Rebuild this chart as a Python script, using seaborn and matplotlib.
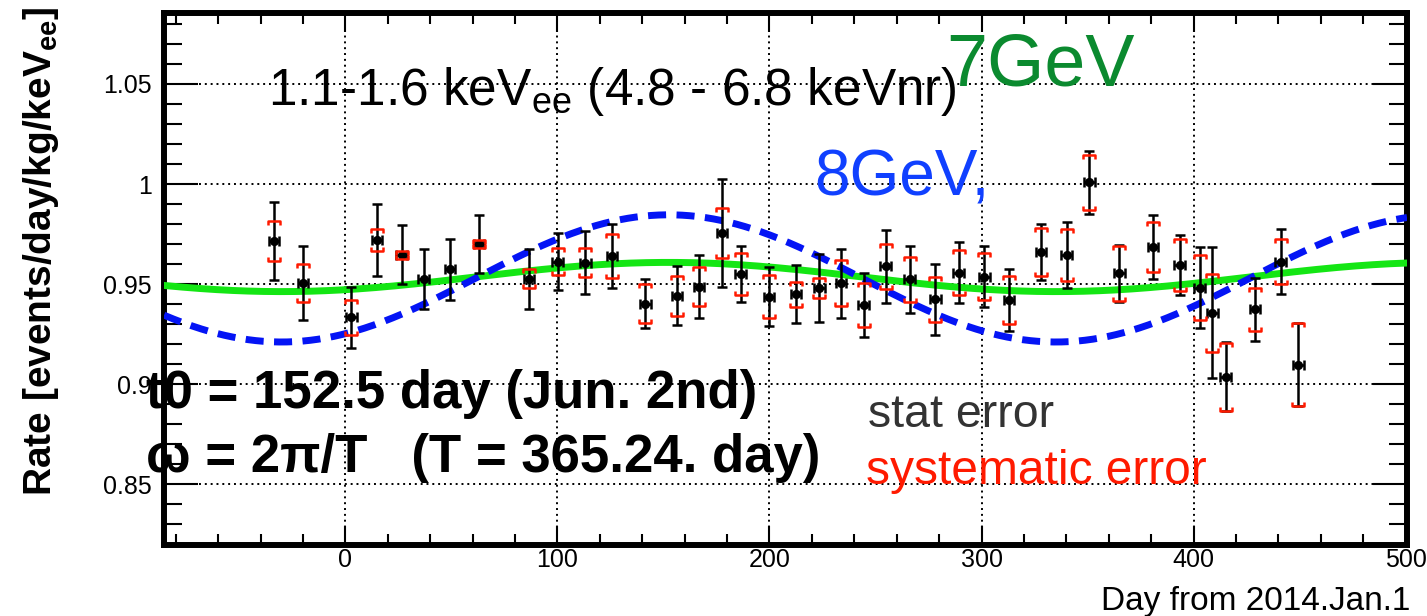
import numpy as np
import matplotlib
matplotlib.use("Agg")
import matplotlib.pyplot as plt
from matplotlib.path import Path
from matplotlib.markers import MarkerStyle
from matplotlib.ticker import MultipleLocator
import seaborn as sns

# Measured rate per time bin
days = [-33.7, -20.1, 2.7, 14.9, 26.5, 36.9, 49.3, 62.9, 86.6, 100.1,
        113.1, 125.7, 141.4, 156.4, 166.8, 177.6, 186.4, 199.8, 212.5, 223.5,
        233.7, 244.4, 254.8, 266.1, 278.2, 289.2, 301.3, 313.0, 328.1, 340.2,
        350.9, 365.0, 380.8, 393.5, 402.9, 408.9, 415.2, 429.0, 441.1, 449.4]
rate = [0.9715, 0.9505, 0.9333, 0.9720, 0.9647, 0.9525, 0.9573, 0.9700, 0.9527, 0.9612,
        0.9607, 0.9640, 0.9402, 0.9442, 0.9487, 0.9755, 0.9550, 0.9437, 0.9448, 0.9482,
        0.9503, 0.9395, 0.9588, 0.9523, 0.9423, 0.9557, 0.9537, 0.9420, 0.9660, 0.9645,
        1.0008, 0.9553, 0.9685, 0.9593, 0.9482, 0.9357, 0.9037, 0.9373, 0.9612, 0.9097]
stat_err = [0.0194, 0.0184, 0.0153, 0.0178, 0.0148, 0.0150, 0.0152, 0.0144, 0.0150, 0.0141,
            0.0159, 0.0158, 0.0123, 0.0148, 0.0156, 0.0270, 0.0142, 0.0147, 0.0145, 0.0170,
            0.0172, 0.0158, 0.0183, 0.0166, 0.0178, 0.0152, 0.0154, 0.0153, 0.0138, 0.0163,
            0.0156, 0.0142, 0.0158, 0.0150, 0.0204, 0.0329, 0.0173, 0.0157, 0.0163, 0.0206]
sys_err = [0.0100, 0.0093, 0.0086, 0.0053, 0.0020, 0.0000, 0.0000, 0.0020, 0.0048, 0.0068,
           0.0072, 0.0108, 0.0097, 0.0100, 0.0096, 0.0126, 0.0107, 0.0107, 0.0062, 0.0050,
           0.0115, 0.0108, 0.0112, 0.0112, 0.0113, 0.0113, 0.0117, 0.0118, 0.0122, 0.0130,
           0.0138, 0.0138, 0.0125, 0.0130, 0.0163, 0.0195, 0.0170, 0.0107, 0.0113, 0.0206]
bin_halfwidth = 2.5

# Annual modulation model R(t) = R0 + A cos(2*pi*(t - t0)/T)
t0 = 152.5
period = 365.24
model_7gev = {"R0": 0.9535, "A": 0.0073}
model_8gev = {"R0": 0.9528, "A": 0.0318}

x_range = (-85.6, 500.7)
y_range = (0.8195, 1.0855)

sns.set_theme(style="ticks")
plt.rcParams["font.family"] = ["Liberation Sans", "DejaVu Sans"]
plt.rcParams["mathtext.fontset"] = "custom"
plt.rcParams["mathtext.rm"] = "Liberation Sans"
plt.rcParams["mathtext.it"] = "Liberation Sans:italic"
plt.rcParams["mathtext.bf"] = "Liberation Sans:bold"

W, H = 1427, 616
fig = plt.figure(figsize=(W / 100, H / 100), dpi=100)
fig.patch.set_facecolor("white")
ax = fig.add_axes([164 / W, 1 - 545 / H, (1407 - 164) / W, (545 - 13) / H])
ax.set_facecolor("white")


def px(x, y):
    return x / W, 1 - y / H


# model curves
t = np.linspace(x_range[0], x_range[1], 800)
phase = np.cos(2 * np.pi * (t - t0) / period)
sns.lineplot(x=t, y=model_7gev["R0"] + model_7gev["A"] * phase, ax=ax,
             color="#14e614", lw=5.0, zorder=3)
sns.lineplot(x=t, y=model_8gev["R0"] + model_8gev["A"] * phase, ax=ax,
             color="#0414f5", lw=5.0, linestyle=(0, (2.6, 1.5)), zorder=3)

# statistical errors
d = np.array(days)
r = np.array(rate)
s = np.array(sys_err)
ax.errorbar(d, r, yerr=stat_err, xerr=bin_halfwidth, fmt="none", ecolor="black",
            elinewidth=1.8, capsize=3.6, capthick=1.8, zorder=4)
sns.scatterplot(x=d, y=r, ax=ax, color="black", s=44, linewidth=0, zorder=5)

# systematic errors as brackets
top_br = MarkerStyle(Path([(-1, -0.6), (-1, 0), (1, 0), (1, -0.6)],
                          [Path.MOVETO, Path.LINETO, Path.LINETO, Path.LINETO]))
bot_br = MarkerStyle(Path([(-1, 0.6), (-1, 0), (1, 0), (1, 0.6)],
                          [Path.MOVETO, Path.LINETO, Path.LINETO, Path.LINETO]))
m = s > 0
ax.plot(d[m], r[m] + s[m], linestyle="none", marker=top_br, ms=9,
        mec="#ff1a00", mfc="none", mew=1.8, zorder=6)
ax.plot(d[m], r[m] - s[m], linestyle="none", marker=bot_br, ms=9,
        mec="#ff1a00", mfc="none", mew=1.8, zorder=6)

# axes
ax.set_xlim(*x_range)
ax.set_ylim(*y_range)
ax.xaxis.set_minor_locator(MultipleLocator(20))
ax.yaxis.set_minor_locator(MultipleLocator(0.01))
ax.set_yticks([0.85, 0.9, 0.95, 1.0, 1.05])
ax.set_yticklabels(["0.85", "0.9", "0.95", "1", "1.05"])
ax.set_xticks([0, 100, 200, 300, 400, 500])
ax.set_xticklabels(["0", "100", "200", "300", "400", "500"])
ax.grid(True, which="major", color="black", linestyle=(0, (1, 2)), lw=1.4)
ax.set_axisbelow(True)
for sp in ax.spines.values():
    sp.set_visible(True)
    sp.set_color("black")
    sp.set_linewidth(4.3)
ax.tick_params(axis="both", which="both", direction="in", top=True, right=True,
               color="black", width=1.5, labelsize=18, labelcolor="black")
ax.tick_params(axis="y", which="major", length=24.5, pad=9)
ax.tick_params(axis="y", which="minor", length=13)
ax.tick_params(axis="x", which="major", length=14, pad=2)
ax.tick_params(axis="x", which="minor", length=8)
ax.set_xlabel("")
ax.set_ylabel("")

fig.text(*px(41, 251), r"Rate [events/day/kg/keV$_{\mathbf{ee}}$]", rotation=90,
         ha="center", va="center", fontsize=28, fontweight="bold", color="black")
fig.text(*px(1410, 610), "Day from 2014.Jan.1", ha="right", va="baseline",
         fontsize=24, color="black")

# annotations
fig.text(*px(268, 105), r"1.1-1.6 keV$_{\mathrm{ee}}$ (4.8 - 6.8 keVnr)",
         ha="left", va="baseline", fontsize=37, color="black", zorder=10)
fig.text(*px(946, 85), "7GeV", ha="left", va="baseline", fontsize=53,
         color="#0b8a2f", zorder=10)
fig.text(*px(814, 196), "8GeV,", ha="left", va="baseline", fontsize=46,
         color="#1040ff", zorder=10)
fig.text(*px(146, 408), "t0 = 152.5 day (Jun. 2nd)", ha="left", va="baseline",
         fontsize=38, fontweight="bold", color="black", zorder=10)
fig.text(*px(146, 472), "\u03c9 = 2\u03c0/T   (T = 365.24. day)", ha="left",
         va="baseline", fontsize=38, fontweight="bold", color="black", zorder=10)
fig.text(*px(868, 427), "stat error", ha="left", va="baseline", fontsize=33.5,
         color="#333333", zorder=10)
fig.text(*px(866, 484), "systematic error", ha="left", va="baseline", fontsize=34.5,
         color="#ff1a00", zorder=10)

fig.savefig("out.png", dpi=100, facecolor="white")
